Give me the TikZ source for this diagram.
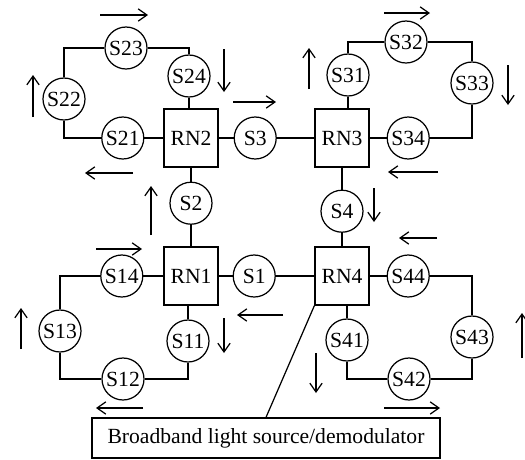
\documentclass[tikz,border=0pt]{standalone}
\usepackage{fontspec}
\setmainfont{Liberation Serif}
\usetikzlibrary{positioning}
\usetikzlibrary{arrows.meta}

\begin{document}
\begin{tikzpicture}[
		x=0.02cm, y=-0.02cm,
		font=\fontsize{12.3}{14}\selectfont,
		line width=0.7pt,
		rn/.style={draw, minimum width=1.08cm, minimum height=1.16cm, inner sep=0pt},
		s/.style={draw, circle, minimum size=0.84cm, inner sep=0pt},
		a/.style={-{Straight Barb[length=5pt, width=7pt]}},
	]
		\useasboundingbox (0,0) rectangle (525,460);

		\node[rn] (RN2) at (191,138) {RN2};
		\node[rn] (RN3) at (342,138) {RN3};
		\node[rn] (RN1) at (191,276) {RN1};
		\node[rn] (RN4) at (342,276) {RN4};

		\node[s, right=0.3cm of RN2] (S3) {S3};
		\node[s, right=0.28cm of RN1] (S1) {S1};
		\node[s, below=0.28cm of RN2] (S2) {S2};
		\node[s, below=0.44cm of RN3] (S4) {S4};

		% ring of RN2
		\node[s, left=0.38cm of RN2] (S21) {S21};
		\node[s] (S22) at (64,99) {S22};
		\node[s] (S23) at (126,48) {S23};
		\node[s] (S24) at (189,76) {S24};

		% ring of RN3
		\node[s, right=0.34cm of RN3] (S34) {S34};
		\node[s] (S31) at (348,75) {S31};
		\node[s] (S32) at (406,42) {S32};
		\node[s] (S33) at (472,83) {S33};

		% ring of RN1
		\node[s, left=0.4cm of RN1] (S14) {S14};
		\node[s] (S13) at (60,331) {S13};
		\node[s] (S12) at (123,379) {S12};
		\node[s] (S11) at (188,341) {S11};

		% ring of RN4
		\node[s, right=0.34cm of RN4] (S44) {S44};
		\node[s] (S43) at (472,337) {S43};
		\node[s] (S42) at (409,379) {S42};
		\node[s] (S41) at (347,340) {S41};

		\node[draw, minimum width=6.96cm, minimum height=0.8cm] (BB) at (266,438) {Broadband light source/demodulator};

		\draw (RN2) -- (S3) -- (RN3);
		\draw (RN1) -- (S1) -- (RN4);
		\draw (RN2) -- (S2) -- (RN1);
		\draw (RN3) -- (S4) -- (RN4);

		\draw (RN2) -- (S21) -| (S22) |- (S23) -| (S24) -- (S24 |- RN2.north);
		\draw (RN3) -- (S34) -| (S33) |- (S32) -| (S31) -- (S31 |- RN3.north);
		\draw (RN1) -- (S14) -| (S13) |- (S12) -| (S11) -- (S11 |- RN1.south);
		\draw (RN4) -- (S44) -| (S43) |- (S42) -| (S41) -- (S41 |- RN4.south);
		\draw (RN4.south west) -- (BB.north);

		% direction arrows
		\draw[a] (100,15) -- (148,15);
		\draw[a] (33,117) -- (33,75);
		\draw[a] (224,49) -- (224,92);
		\draw[a] (133,173) -- (85,173);
		\draw[a] (233,102) -- (276,102);
		\draw[a] (151,235) -- (151,186);
		\draw[a] (309,89) -- (309,48);
		\draw[a] (384,13) -- (430,13);
		\draw[a] (508,65) -- (508,105);
		\draw[a] (438,172) -- (388,172);
		\draw[a] (374,188) -- (374,222);
		\draw[a] (96,249) -- (142,249);
		\draw[a] (21,349) -- (21,308);
		\draw[a] (224,318) -- (224,353);
		\draw[a] (143,408) -- (96,408);
		\draw[a] (283,315) -- (237,315);
		\draw[a] (437,238) -- (399,238);
		\draw[a] (522,358) -- (522,313);
		\draw[a] (316,353) -- (316,393);
		\draw[a] (384,408) -- (440,408);
	\end{tikzpicture}
\end{document}
